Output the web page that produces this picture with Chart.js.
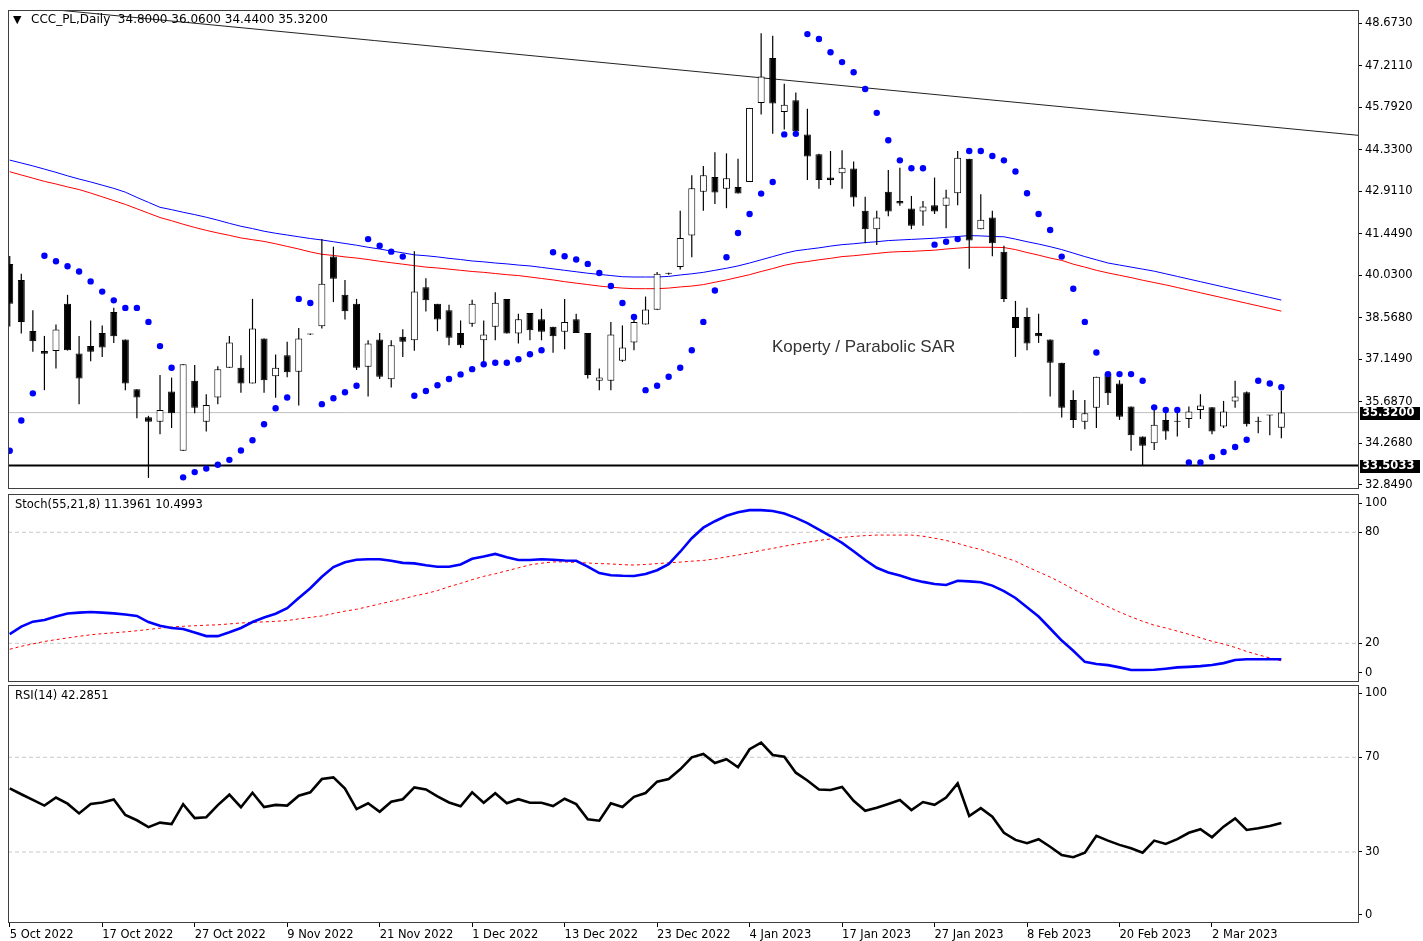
<!DOCTYPE html>
<html><head><meta charset="utf-8">
<script src="https://cdn.jsdelivr.net/npm/chart.js@4.4.1/dist/chart.umd.min.js"></script>
<style>
html,body{margin:0;padding:0;background:#fff;}
#wrap{position:relative;width:1423px;height:941px;overflow:hidden;background:#fff;}
canvas{position:absolute;left:0;}
</style></head><body>
<div id="wrap">
<canvas id="cPrice" width="1423" height="493" style="top:0px"></canvas>
<canvas id="cStoch" width="1423" height="191" style="top:492px"></canvas>
<canvas id="cRsi" width="1423" height="258" style="top:683px"></canvas>
</div>
<script>
// ---------------- DATA ----------------
const symbol = 'CCC_PL,Daily';
const chartNote = 'Koperty / Parabolic SAR';
const dateLabels = ['5 Oct 2022','17 Oct 2022','27 Oct 2022','9 Nov 2022','21 Nov 2022','1 Dec 2022','13 Dec 2022','23 Dec 2022','4 Jan 2023','17 Jan 2023','27 Jan 2023','8 Feb 2023','20 Feb 2023','2 Mar 2023'];
const dateBarIndex = [0,8,16,24,32,40,48,56,64,72,80,88,96,104];
const priceTicks = [48.673,47.211,45.792,44.330,42.911,41.449,40.030,38.568,37.149,35.687,34.268,32.849];
const stochLevelLabels = [100,80,20,0];
const stochDashLevels = [80,20];
const rsiLevelLabels = [100,70,30,0];
const rsiDashLevels = [70,30];
const bidPrice = 35.32;
const supportLevel = 33.5033;
const trendX = [-0.15, 116.63];
const trendY = [49.29, 44.83];

const open = [
40.42,39.87,38.12,37.43,37.43,39.05,37.35,37.60,38.05,38.77,
37.83,36.12,35.16,35.01,36.04,34.01,36.41,35.01,35.84,36.86,
36.86,36.32,37.86,36.57,37.29,36.72,38.00,38.28,40.67,39.36,
39.05,36.89,37.83,36.46,37.92,37.80,39.62,39.05,38.83,38.05,
38.37,37.80,38.26,39.22,38.03,38.74,38.52,38.26,38.09,38.52,
38.05,36.41,36.41,37.10,37.72,38.34,38.85,40.08,40.31,41.39,
42.89,43.40,43.00,43.06,43.23,45.94,47.48,45.63,46.03,44.86,
44.18,43.38,43.53,43.69,42.24,41.61,42.89,42.58,42.32,42.22,
42.43,42.41,42.84,44.03,41.61,42.01,40.84,38.60,38.60,38.05,
37.83,37.03,35.75,35.01,35.49,36.66,36.32,35.53,34.50,34.27,
35.07,35.04,35.10,35.41,35.50,34.84,35.70,36.02,35.03,35.23,34.80];
const high = [
40.69,40.08,38.83,37.95,38.34,39.36,37.95,38.48,38.31,38.92,
37.83,36.12,35.21,36.61,36.52,36.98,36.95,35.95,36.91,37.95,
37.29,39.22,37.86,37.31,37.75,38.22,38.02,41.27,41.01,39.87,
39.22,37.80,38.05,37.80,38.18,40.85,39.93,39.05,39.02,38.48,
39.19,38.48,39.45,39.22,38.71,38.74,38.88,38.26,39.22,38.71,
38.05,36.83,38.43,38.31,38.60,39.30,40.14,40.12,42.24,43.46,
43.78,44.25,44.21,44.03,45.77,48.33,48.24,46.60,46.30,45.74,
44.20,44.29,44.32,43.93,42.72,42.24,43.64,43.72,42.75,42.58,
43.38,42.96,44.29,44.03,42.81,42.24,41.04,39.15,38.92,38.71,
37.83,37.03,36.09,35.75,36.55,36.66,36.43,35.53,34.50,35.43,
35.47,35.36,35.53,35.95,35.50,35.72,36.41,36.04,35.18,35.24,36.06];
const low = [
38.27,38.03,37.41,36.09,36.83,37.45,35.61,37.08,37.23,37.71,
36.09,35.13,33.08,34.58,34.79,34.01,35.30,34.67,35.61,36.86,
36.00,36.32,36.00,35.83,36.53,35.56,37.98,38.20,39.11,38.51,
36.78,35.87,36.47,36.18,37.23,37.44,38.79,38.11,37.63,37.54,
38.26,37.06,37.80,38.03,37.69,37.80,37.80,37.37,37.49,38.05,
36.49,36.09,36.09,37.06,37.46,38.34,38.85,40.05,40.23,40.65,
42.24,42.47,42.33,42.83,43.23,45.54,44.88,45.03,44.97,43.30,
43.00,43.12,43.00,42.39,41.13,41.07,42.05,42.41,41.61,41.73,
42.13,41.64,42.43,40.25,41.61,40.68,39.11,37.23,37.46,37.71,
35.87,35.15,34.79,34.75,34.79,35.58,35.07,34.01,33.50,34.04,
34.39,34.50,34.79,35.10,34.58,34.79,35.49,34.84,34.61,34.54,34.44];
const close = [
39.05,38.43,37.77,37.34,38.17,37.46,36.49,37.41,37.55,37.94,
36.32,35.84,35.01,35.41,35.30,36.98,35.49,35.58,36.81,37.72,
36.32,38.20,36.43,36.86,36.70,37.86,38.00,39.74,39.91,38.80,
36.86,37.69,36.55,37.63,37.75,39.47,39.17,38.51,37.89,37.63,
39.05,38.00,39.09,38.03,38.52,38.14,38.09,37.94,38.43,38.05,
36.61,36.52,38.00,37.55,38.43,38.86,40.08,40.09,41.31,43.01,
43.46,42.87,43.36,42.83,45.77,46.85,45.92,45.88,44.97,44.10,
43.30,43.30,43.72,42.70,41.61,42.01,42.22,42.49,41.73,42.39,
42.22,42.70,44.06,41.22,41.93,41.13,39.22,38.22,37.69,37.94,
37.03,35.49,35.07,35.30,36.55,35.98,35.18,34.54,34.18,34.90,
34.67,35.01,35.36,35.56,34.67,35.36,35.87,34.92,35.01,35.22,35.32];
const sar = [
34.01,35.05,35.98,40.70,40.51,40.34,40.16,39.82,39.47,39.17,
38.91,38.91,38.43,37.60,36.86,33.10,33.28,33.40,33.53,33.70,
34.02,34.37,34.92,35.47,35.84,39.22,39.08,35.61,35.81,36.02,
36.24,41.27,41.04,40.84,40.67,35.90,36.06,36.26,36.47,36.63,
36.81,36.98,37.03,37.03,37.15,37.32,37.46,40.82,40.68,40.57,
40.42,40.11,39.66,39.08,38.60,36.09,36.24,36.55,36.86,37.46,
38.43,39.51,40.65,41.48,42.13,42.83,43.23,44.86,44.88,48.30,
48.13,47.68,47.34,46.99,46.42,45.60,44.66,43.97,43.70,43.70,
41.08,41.18,41.27,44.29,44.29,44.12,43.97,43.59,42.84,42.13,
41.58,40.67,39.57,38.43,37.38,36.64,36.64,36.64,36.41,35.50,
35.41,35.41,33.61,33.61,33.80,33.97,34.14,34.39,36.41,36.32,36.19];
const maBlue = [
43.98,43.88,43.78,43.67,43.56,43.44,43.33,43.23,43.12,43.01,
42.88,42.70,42.53,42.36,42.28,42.19,42.11,42.02,41.92,41.81,
41.71,41.63,41.54,41.47,41.41,41.35,41.29,41.24,41.18,41.12,
41.06,40.99,40.93,40.86,40.80,40.73,40.70,40.66,40.61,40.57,
40.52,40.49,40.45,40.42,40.38,40.35,40.30,40.25,40.20,40.15,
40.10,40.06,40.02,39.98,39.97,39.97,39.97,39.99,40.04,40.08,
40.13,40.20,40.27,40.35,40.45,40.56,40.67,40.78,40.87,40.92,
40.97,41.03,41.08,41.11,41.15,41.18,41.22,41.24,41.26,41.28,
41.30,41.33,41.36,41.39,41.38,41.36,41.35,41.27,41.18,41.10,
41.01,40.91,40.79,40.67,40.56,40.45,40.38,40.31,40.24,40.17,
40.08,39.99,39.90,39.81,39.72,39.63,39.54,39.45,39.36,39.27,39.18];
const maRed = [
43.58,43.47,43.36,43.25,43.16,43.06,42.97,42.85,42.72,42.59,
42.46,42.31,42.16,42.01,41.90,41.78,41.67,41.57,41.48,41.40,
41.31,41.25,41.19,41.11,41.02,40.93,40.83,40.75,40.71,40.66,
40.62,40.57,40.51,40.46,40.41,40.36,40.31,40.28,40.24,40.20,
40.16,40.13,40.09,40.05,40.02,39.97,39.92,39.87,39.81,39.76,
39.71,39.66,39.62,39.59,39.57,39.57,39.57,39.59,39.63,39.66,
39.71,39.79,39.87,39.96,40.05,40.16,40.26,40.37,40.45,40.50,
40.56,40.61,40.67,40.70,40.74,40.78,40.82,40.84,40.85,40.87,
40.89,40.93,40.96,40.99,40.99,40.99,40.98,40.91,40.81,40.72,
40.62,40.54,40.41,40.31,40.20,40.11,40.03,39.95,39.86,39.78,
39.70,39.61,39.52,39.43,39.34,39.25,39.16,39.07,38.98,38.89,38.80];
const stochMain = [
25.0,29.0,31.7,32.6,34.5,36.1,36.6,36.9,36.6,36.2,
35.6,34.8,31.5,29.5,28.3,27.7,25.8,23.9,23.9,26.0,
28.3,31.5,34.0,36.0,39.0,44.5,49.8,56.0,61.2,63.8,
65.2,65.4,65.4,64.6,63.5,63.2,62.2,61.4,61.4,62.6,
65.7,66.9,68.3,66.5,65.0,65.0,65.4,65.2,64.8,64.6,
61.5,58.0,56.8,56.5,56.4,57.5,59.5,62.8,69.5,76.8,
82.5,86.0,88.9,90.8,92.0,92.0,91.5,90.2,87.8,85.0,
81.5,78.0,74.3,69.8,65.0,60.8,58.3,56.6,54.6,53.2,
52.1,51.5,53.8,53.5,53.0,51.2,48.2,44.5,39.5,34.5,
28.0,21.5,16.0,10.0,8.8,8.2,7.0,5.6,5.6,5.7,
6.3,7.0,7.3,7.7,8.3,9.3,11.0,11.4,11.4,11.4,11.3961];
const stochSignal = [
16.8,18.4,19.7,21.0,22.0,22.9,23.8,24.6,25.2,25.7,
26.2,26.8,27.5,28.2,28.8,29.2,29.5,29.8,30.0,30.5,
31.0,31.3,31.6,31.9,32.3,33.2,34.0,34.8,36.1,37.4,
38.4,39.8,41.3,42.7,44.0,45.6,46.9,48.5,50.6,52.4,
54.4,56.2,57.6,59.2,60.8,62.4,63.3,64.0,64.0,63.7,
63.4,63.1,62.9,62.5,62.3,62.6,63.1,63.5,63.9,64.4,
64.8,65.6,66.7,67.7,68.9,70.2,71.3,72.5,73.6,74.6,
75.6,76.4,77.2,77.8,78.2,78.5,78.5,78.5,78.5,77.9,
76.8,75.6,74.0,72.2,70.7,68.6,66.5,64.4,61.4,58.6,
55.8,52.7,49.2,46.0,42.7,39.8,36.9,34.3,31.9,29.8,
28.3,26.6,24.9,23.0,21.1,19.6,17.8,15.6,13.8,12.1,10.4993];
const rsi = [
56.9,54.4,52.0,49.6,53.0,50.4,46.3,50.3,50.9,52.2,
45.6,43.4,40.5,42.4,41.8,50.2,44.3,44.7,49.8,54.2,
48.9,55.0,49.0,49.9,49.6,53.8,55.2,60.8,61.5,56.8,
48.1,50.6,47.0,51.2,52.3,57.3,56.4,53.5,50.9,49.3,
55.2,50.8,54.8,50.6,52.3,50.8,50.8,49.4,52.5,50.2,
43.8,43.2,50.6,49.0,53.3,54.9,59.7,60.8,64.9,70.0,
71.4,67.6,69.2,65.8,73.4,76.2,71.0,70.2,63.5,60.2,
56.4,56.2,57.5,51.6,47.4,48.7,50.3,52.0,47.7,51.1,
49.9,53.0,59.0,45.2,48.5,44.9,38.1,35.1,33.7,35.4,
32.2,28.7,27.8,29.7,36.8,34.8,33.0,31.6,29.7,34.8,
33.4,35.4,38.1,39.6,36.2,40.7,44.2,39.3,40.0,41.0,42.2851];

// ---------------- HELPERS ----------------
const FONT = '"DejaVu Sans", sans-serif';
const xMin = trendX[0], xMax = trendX[1];
const N = close.length;
const pts = arr => arr.map((v, i) => ({x: i, y: v}));
const hline = v => [{x: xMin, y: v}, {x: xMax, y: v}];

const framePlugin = {
  id: 'frame',
  afterDraw(chart) {
    const {ctx, chartArea: a} = chart;
    const x0 = Math.round(a.left) + 0.5, x1 = Math.round(a.right) + 0.5;
    const y0 = Math.round(a.top) + 0.5, y1 = Math.round(a.bottom) - 0.5;
    ctx.save();
    ctx.strokeStyle = '#404040';
    ctx.lineWidth = 1;
    ctx.strokeRect(x0, y0, x1 - x0, y1 - y0);
    ctx.restore();
  }
};

function rightAxis(min, max, tickValues, labelFn) {
  return {
    position: 'right', min, max,
    afterBuildTicks: s => { s.ticks = tickValues.map(v => ({value: v})); },
    afterFit: s => { s.width = 65; s.paddingTop = 0; s.paddingBottom = 0; },
    ticks: { callback: labelFn, padding: 3, autoSkip: false, color: '#000', font: {family: FONT, size: 11.5} },
    grid: { drawOnChartArea: false, drawTicks: true, tickLength: 4, color: '#000' },
    border: { display: false }
  };
}
function hiddenX() {
  return { type: 'linear', min: xMin, max: xMax, offset: false, display: false,
           afterFit: s => { s.paddingLeft = 0; s.paddingRight = 0; } };
}
const baseOpts = {
  responsive: false, animation: false, devicePixelRatio: 1,
  plugins: { legend: {display: false}, tooltip: {enabled: false} }
};

// ---------------- PRICE PANEL ----------------
const bodyColors = open.map((o, i) => close[i] >= o ? '#ffffff' : '#000000');
const pricePlugin = {
  id: 'priceText',
  afterDraw(chart) {
    const {ctx} = chart; const ys = chart.scales.y;
    const f = v => v.toFixed(4);
    ctx.save();
    ctx.textBaseline = 'middle';
    ctx.fillStyle = '#000';
    ctx.font = '11px ' + FONT;
    ctx.fillText('\u25BC', 13, 20);
    ctx.font = '12px ' + FONT;
    ctx.fillText(symbol + '  ' + f(open[N-1]) + ' ' + f(high[N-1]) + ' ' + f(low[N-1]) + ' ' + f(close[N-1]), 31, 20);
    ctx.font = '17px "Liberation Sans", Arial, sans-serif';
    ctx.fillStyle = '#333';
    ctx.fillText(chartNote, 772, 347);
    [bidPrice, supportLevel].forEach(v => {
      const py = Math.round(ys.getPixelForValue(v));
      ctx.fillStyle = '#000';
      ctx.fillRect(1360, py - 6, 60, 13);
      ctx.fillStyle = '#fff';
      ctx.font = 'bold 11.5px ' + FONT;
      ctx.fillText(f(v), 1362, py + 0.5);
    });
    ctx.restore();
  }
};

new Chart(document.getElementById('cPrice'), {
  type: 'bar',
  data: { datasets: [
    { type: 'line', data: trendX.map((x, i) => ({x, y: trendY[i]})), borderColor: '#222', borderWidth: 1, pointRadius: 0, order: 20 },
    { type: 'line', data: hline(bidPrice), borderColor: '#c0c0c0', borderWidth: 1, pointRadius: 0, order: 19 },
    { type: 'line', data: hline(supportLevel), borderColor: '#000', borderWidth: 2, pointRadius: 0, order: 18 },
    { type: 'line', data: pts(maBlue), borderColor: '#0000ff', borderWidth: 1, pointRadius: 0, order: 12 },
    { type: 'line', data: pts(maRed), borderColor: '#ff0000', borderWidth: 1, pointRadius: 0, order: 11 },
    { type: 'bar', data: low.map((l, i) => ({x: i, y: [l, high[i]]})), backgroundColor: '#000', borderWidth: 0,
      barThickness: 1.2, grouped: false, inflateAmount: 0, order: 6 },
    { type: 'bar', data: open.map((o, i) => ({x: i, y: [o, close[i]]})), backgroundColor: bodyColors, borderColor: '#000',
      borderWidth: 1, borderSkipped: false, barThickness: 7, grouped: false, inflateAmount: 0, minBarLength: 1, order: 5 },
    { type: 'line', data: pts(sar), showLine: false, pointRadius: 3.2, pointStyle: 'circle', pointBackgroundColor: '#0000ff',
      pointBorderWidth: 0, borderColor: '#0000ff', order: 1 }
  ]},
  options: Object.assign({}, baseOpts, {
    layout: { padding: {left: 8, right: 0, top: 10, bottom: 2} },
    scales: {
      x: hiddenX(),
      y: rightAxis(32.70, 49.127, priceTicks, v => v.toFixed(4))
    }
  }),
  plugins: [framePlugin, pricePlugin]
});

// ---------------- STOCH PANEL ----------------
function insetLevels(levels, min, max, inset) {
  return levels.map(v => Math.min(Math.max(v, min + inset), max - inset));
}
const stMin = -0.9, stMax = 100.7;
new Chart(document.getElementById('cStoch'), {
  type: 'line',
  data: { datasets: [
    ...stochDashLevels.map(v => ({ data: hline(v), borderColor: '#c8c8c8', borderWidth: 1, borderDash: [4, 3], pointRadius: 0, order: 10 })),
    { data: pts(stochSignal), borderColor: '#ff0000', borderWidth: 1, borderDash: [3, 3], pointRadius: 0, order: 3 },
    { data: pts(stochMain), borderColor: '#0000ff', borderWidth: 2.6, pointRadius: 0, order: 2 }
  ]},
  options: Object.assign({}, baseOpts, {
    layout: { padding: {left: 8, right: 0, top: 2, bottom: 1} },
    scales: {
      x: hiddenX(),
      y: rightAxis(stMin, stMax, insetLevels(stochLevelLabels, stMin, stMax, 4.9), (v, i) => String(stochLevelLabels[i]))
    }
  }),
  plugins: [framePlugin, {
    id: 'stLabel',
    afterDraw(chart) {
      const {ctx} = chart;
      ctx.save(); ctx.textBaseline = 'middle'; ctx.fillStyle = '#000'; ctx.font = '11.5px ' + FONT;
      ctx.fillText('Stoch(55,21,8) ' + stochMain[N-1].toFixed(4) + ' ' + stochSignal[N-1].toFixed(4), 15, 13);
      ctx.restore();
    }
  }]
});

// ---------------- RSI PANEL ----------------
const rMin = 0, rMax = 100.54;
new Chart(document.getElementById('cRsi'), {
  type: 'line',
  data: { datasets: [
    ...rsiDashLevels.map(v => ({ data: hline(v), borderColor: '#c8c8c8', borderWidth: 1, borderDash: [4, 3], pointRadius: 0, order: 10 })),
    { data: pts(rsi), borderColor: '#000', borderWidth: 2.6, pointRadius: 0, order: 2 }
  ]},
  options: Object.assign({}, baseOpts, {
    layout: { padding: {left: 8, right: 0, top: 2, bottom: 0} },
    scales: {
      x: { type: 'linear', min: xMin, max: xMax, offset: false, position: 'bottom',
           afterBuildTicks: s => { s.ticks = dateBarIndex.map(v => ({value: v})); },
           afterFit: s => { s.height = 18; s.paddingLeft = 0; s.paddingRight = 0; },
           ticks: { callback: (v, i) => dateLabels[i], align: 'start', maxRotation: 0, autoSkip: false, padding: 1,
                    color: '#000', font: {family: FONT, size: 11.5} },
           grid: { drawOnChartArea: false, drawTicks: true, tickLength: 4, color: '#000' },
           border: { display: false } },
      y: rightAxis(rMin, rMax, insetLevels(rsiLevelLabels, rMin, rMax, 3.5), (v, i) => String(rsiLevelLabels[i]))
    }
  }),
  plugins: [framePlugin, {
    id: 'rsiLabel',
    afterDraw(chart) {
      const {ctx} = chart;
      ctx.save(); ctx.textBaseline = 'middle'; ctx.fillStyle = '#000'; ctx.font = '11.5px ' + FONT;
      ctx.fillText('RSI(14) ' + rsi[N-1].toFixed(4), 15, 13);
      ctx.restore();
    }
  }]
});
</script>
</body></html>
